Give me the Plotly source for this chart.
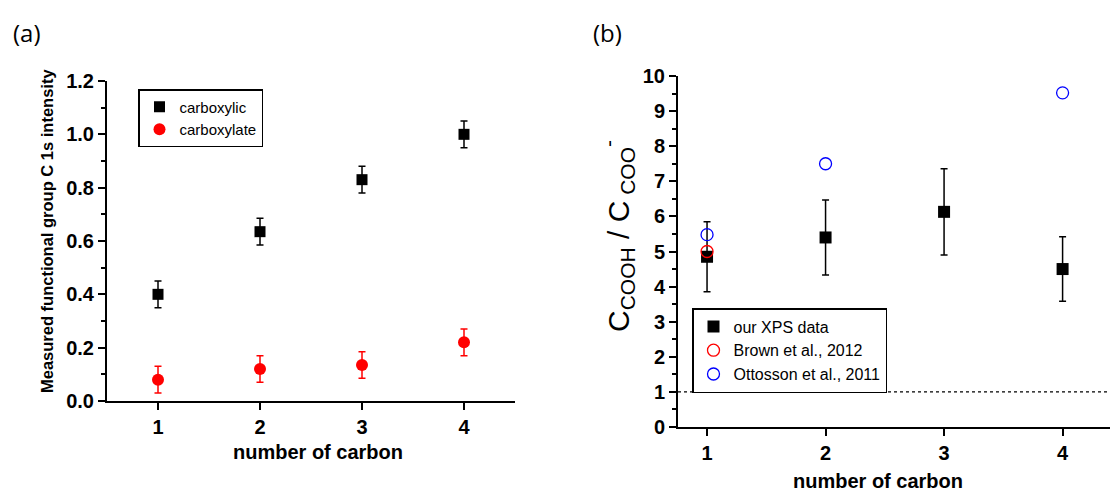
import plotly.graph_objects as go

# ---------- data ----------
carbon = [1, 2, 3, 4]
carboxylic = [0.40, 0.635, 0.83, 1.00]
carboxylic_err = [0.05, 0.05, 0.05, 0.05]
carboxylate = [0.08, 0.12, 0.135, 0.22]
carboxylate_err = [0.05, 0.05, 0.05, 0.05]

xps_ratio = [4.85, 5.40, 6.13, 4.50]
xps_err = [1.0, 1.07, 1.23, 0.92]
brown_x = [1]
brown_ratio = [5.0]
ottosson_x = [1, 2, 4]
ottosson_ratio = [5.48, 7.5, 9.52]

W, H = 1110, 491
FONT = "Liberation Sans, Arial, sans-serif"

fig = go.Figure()

# ---------- panel (a) ----------
fig.add_trace(go.Scatter(
    x=carbon, y=carboxylic, mode="markers", name="carboxylic",
    marker=dict(symbol="square", size=11, color="black"),
    error_y=dict(type="data", array=carboxylic_err, color="black", thickness=1.5, width=3.5),
    xaxis="x", yaxis="y", legend="legend"))
fig.add_trace(go.Scatter(
    x=carbon, y=carboxylate, mode="markers", name="carboxylate",
    marker=dict(symbol="circle", size=12, color="#ff0000"),
    error_y=dict(type="data", array=carboxylate_err, color="#ff0000", thickness=1.5, width=3.5),
    xaxis="x", yaxis="y", legend="legend"))

# ---------- panel (b) ----------
fig.add_trace(go.Scatter(
    x=carbon, y=xps_ratio, mode="markers", name="our XPS data",
    marker=dict(symbol="square", size=12, color="black"),
    error_y=dict(type="data", array=xps_err, color="black", thickness=1.5, width=3.5),
    xaxis="x2", yaxis="y2", legend="legend2"))
fig.add_trace(go.Scatter(
    x=brown_x, y=brown_ratio, mode="markers", name="Brown et al., 2012",
    marker=dict(symbol="circle-open", size=12, color="#ff0000", line=dict(width=1.3)),
    xaxis="x2", yaxis="y2", legend="legend2"))
fig.add_trace(go.Scatter(
    x=ottosson_x, y=ottosson_ratio, mode="markers", name="Ottosson et al., 2011",
    marker=dict(symbol="circle-open", size=12, color="#0000ff", line=dict(width=1.3)),
    xaxis="x2", yaxis="y2", legend="legend2"))

tickfont = dict(family=FONT, size=20, color="black", weight="bold")
axis_common = dict(showline=True, linecolor="black", linewidth=2, ticks="outside",
                   tickcolor="black", tickwidth=2, ticklen=7, showgrid=False,
                   zeroline=False, tickfont=tickfont, mirror=False)

ax_a_l, ax_a_r = 107 / W, 515 / W
ax_a_b, ax_a_t = (H - 401) / H, (H - 81) / H
ax_b_l, ax_b_r = 678 / W, 1.0
ax_b_b, ax_b_t = (H - 427) / H, (H - 76) / H

fig.update_layout(
    width=W, height=H, margin=dict(l=0, r=0, t=0, b=0, autoexpand=False),
    paper_bgcolor="white", plot_bgcolor="white",
    font=dict(family=FONT, color="black"),
    xaxis=dict(domain=[ax_a_l, ax_a_r], range=[0.5, 4.5], tickvals=carbon,
               anchor="y", **axis_common),
    yaxis=dict(domain=[ax_a_b, ax_a_t], range=[0, 1.2], tickvals=[0, 0.2, 0.4, 0.6, 0.8, 1.0, 1.2],
               ticktext=["0.0", "0.2", "0.4", "0.6", "0.8", "1.0", "1.2"],
               minor=dict(dtick=0.1, ticks="outside", ticklen=4, tickcolor="black", tickwidth=2),
               anchor="x", **axis_common),
    xaxis2=dict(domain=[ax_b_l, ax_b_r], range=[0.755, 4.4], tickvals=carbon,
                anchor="y2", **axis_common),
    yaxis2=dict(domain=[ax_b_b, ax_b_t], range=[0, 10], dtick=1,
                minor=dict(dtick=0.5, ticks="outside", ticklen=4, tickcolor="black", tickwidth=2),
                anchor="x2", **axis_common),
    legend=dict(x=138 / W, y=(H - 89) / H, xanchor="left", yanchor="top",
                bordercolor="black", borderwidth=1.5, bgcolor="white",
                font=dict(family=FONT, size=15, color="black"),
                tracegroupgap=0, itemwidth=30),
    legend2=dict(x=692 / W, y=(H - 308) / H, xanchor="left", yanchor="top",
                 bordercolor="black", borderwidth=1.5, bgcolor="white",
                 font=dict(family=FONT, size=16, color="black"),
                 tracegroupgap=0, itemwidth=30),
    showlegend=True,
)

# dashed reference line at ratio = 1
fig.add_shape(type="line", xref="x2 domain", yref="y2", x0=0, x1=1, y0=1, y1=1,
              line=dict(color="black", width=1.2, dash="3px,3px"))


def label(text, px, py, size, family=FONT, angle=0):
    fig.add_annotation(text=text, x=px / W, y=(H - py) / H, xref="paper", yref="paper",
                       xanchor="center", yanchor="middle", textangle=angle, showarrow=False,
                       font=dict(family=family, size=size, color="black"))


label("<b>Measured functional group C 1s intensity</b>", 47, 231, 16.5, angle=-90)
label("<b>number of carbon</b>", 318, 452, 20)
label("<b>number of carbon</b>", 878, 481, 20)
label("C<sub>COOH</sub> / C<sub> COO</sub><sup>-</sup>", 618, 236, 30, angle=-90)
label("(a)", 27, 32, 24, family="Open Sans, sans-serif")
label("(b)", 607, 32, 24, family="Open Sans, sans-serif")

fig.write_html("out.html")
